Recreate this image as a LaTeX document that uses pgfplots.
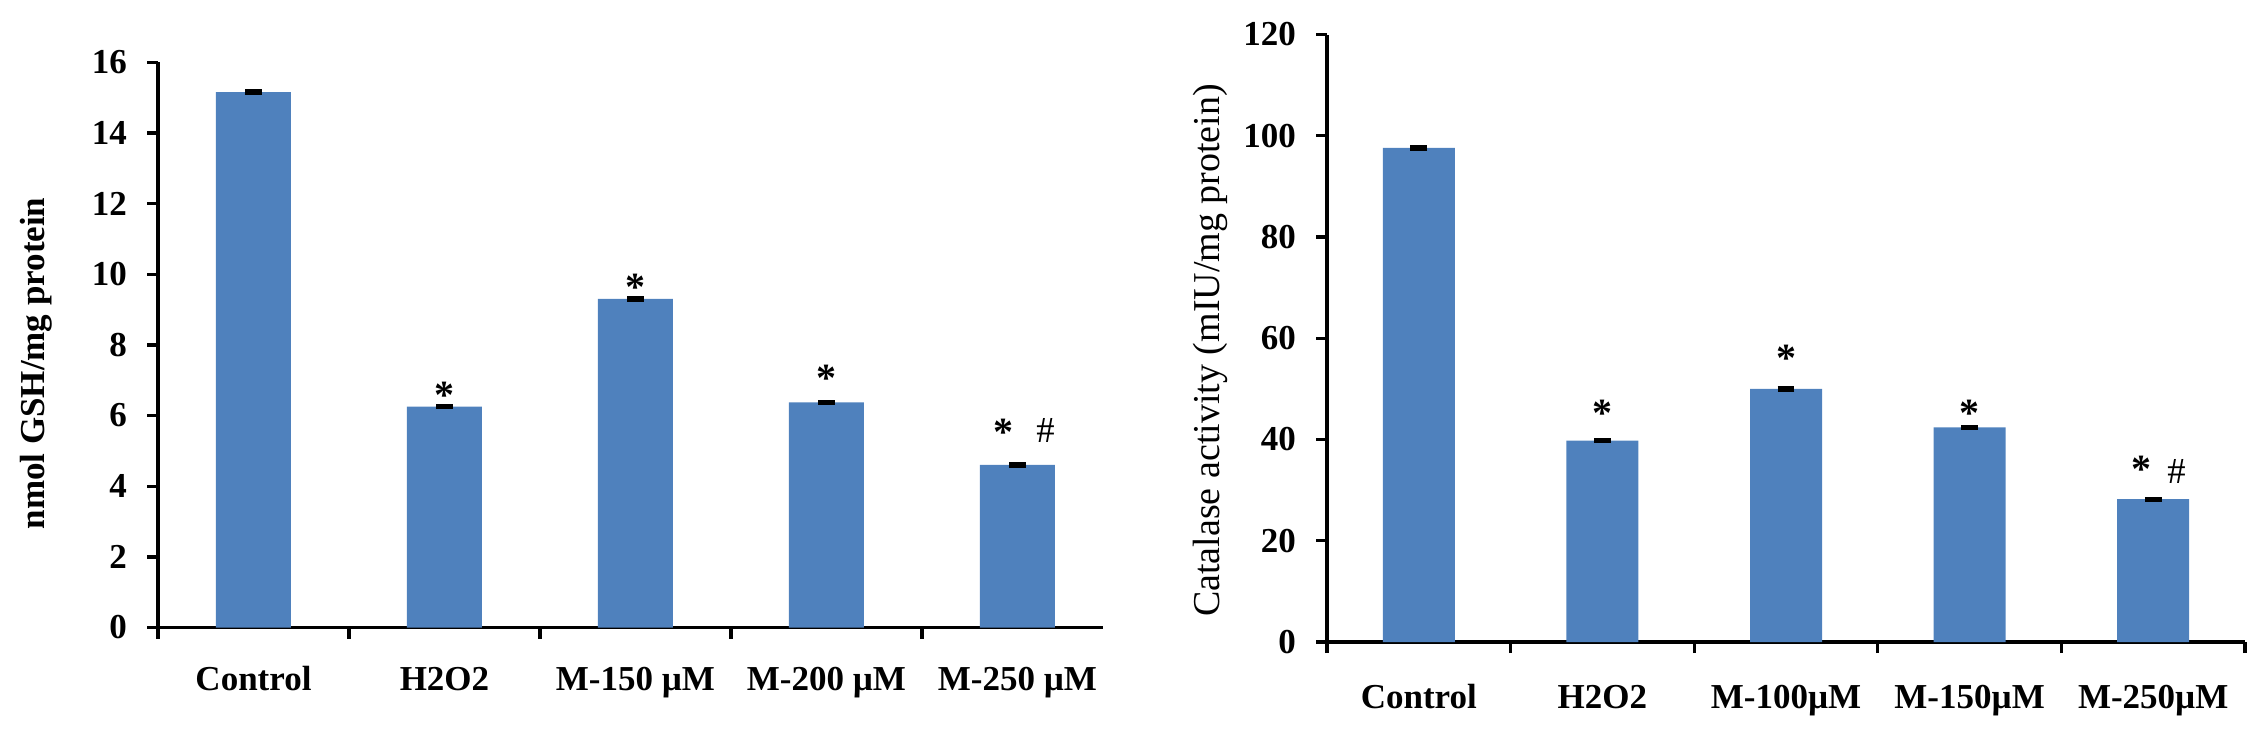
\documentclass[border=0pt]{standalone}
\usepackage{fontspec}
\setmainfont{Liberation Serif}
\usepackage{pgfplots}
\pgfplotsset{compat=1.18}
\definecolor{barblue}{HTML}{4F81BD}
\pgfplotsset{
  myaxis/.style={
    scale only axis,
    anchor=south west,
    axis x line=bottom, axis y line=left,
    axis line style={-, line width=1pt, black},
    ymin=0, xmin=-0.5,
    tick align=outside,
    major tick length=3.3pt,
    minor tick length=3.3pt,
    xtick={0,...,4},
    major x tick style={draw=none},
    minor x tick style={black, line width=1pt},
    y tick style={black, line width=1pt},
    /pgf/number format/assume math mode=true,
    tick label style={font=\fontsize{10.5}{12}\selectfont\bfseries},
    yticklabel style={xshift=-2.5pt},
    xticklabel style={text height=7.5pt, text depth=2pt},
    ybar,
    clip=false,
  },
}
\tikzset{
  ast/.style={anchor=base, font=\fontsize{12}{14}\selectfont\bfseries},
  hsh/.style={anchor=base, font=\fontsize{11}{13}\selectfont},
}
\begin{document}
\begin{tikzpicture}
\useasboundingbox (0,0) rectangle (680.1pt,222.6pt);
% ---------- left panel ----------
\begin{axis}[myaxis,
  at={(47.4pt,34.35pt)}, width=283.5pt, height=169.6pt,
  xmax=4.448, ymax=16, ytick={0,2,...,16},
  bar width=22.5pt,
  minor xtick={-0.5,0.5,1.5,2.5,3.5},
  xticklabels={Control,H2O2,M-150 µM,M-200 µM,M-250 µM},
  xticklabel style={yshift=-4.7pt}]
\addplot[fill=barblue, draw=none,
  error bars/.cd, y dir=both, y explicit,
  error bar style={black, line width=1pt},
  error mark options={black, line width=1pt, mark size=2.5pt, rotate=90}]
  coordinates {(0,15.15) +- (0,0.03) (1,6.25) +- (0,0.03) (2,9.3) +- (0,0.03) (3,6.37) +- (0,0.03) (4,4.6) +- (0,0.03)};
\node[ast, yshift=-0.6pt] at (axis cs:1,6.25) {*};
\node[ast, yshift=-0.6pt] at (axis cs:2,9.3) {*};
\node[ast, yshift=3.3pt] at (axis cs:3,6.37) {*};
\node[ast, yshift=5.7pt, xshift=-4.2pt] at (axis cs:4,4.6) {*};
\node[hsh, yshift=6.8pt, xshift=8.4pt] at (axis cs:4,4.6) {\#};
\end{axis}
% ---------- right panel ----------
\begin{axis}[myaxis,
  at={(398.1pt,30pt)}, width=275.4pt, height=182.25pt,
  xmax=4.5, ymax=120, ytick={0,20,...,120},
  bar width=21.6pt,
  minor xtick={-0.5,0.5,1.5,2.5,3.5,4.5},
  xticklabels={Control,H2O2,M-100µM,M-150µM,M-250µM},
  xticklabel style={yshift=-5.6pt}]
\addplot[fill=barblue, draw=none,
  error bars/.cd, y dir=both, y explicit,
  error bar style={black, line width=1pt},
  error mark options={black, line width=1pt, mark size=2.5pt, rotate=90}]
  coordinates {(0,97.6) +- (0,0.2) (1,39.8) +- (0,0.2) (2,50.0) +- (0,0.2) (3,42.4) +- (0,0.2) (4,28.2) +- (0,0.2)};
\node[ast, yshift=4.2pt] at (axis cs:1,39.8) {*};
\node[ast, yshift=5.1pt] at (axis cs:2,50.0) {*};
\node[ast, yshift=0.3pt] at (axis cs:3,42.4) {*};
\node[ast, yshift=5.1pt, xshift=-3.5pt] at (axis cs:4,28.2) {*};
\node[hsh, yshift=4.7pt, xshift=7pt] at (axis cs:4,28.2) {\#};
\end{axis}
% ---------- axis titles ----------
\node[rotate=90, anchor=base, font=\fontsize{10.5}{12}\selectfont\bfseries] at (13.5pt,113.55pt) {nmol GSH/mg protein};
\node[rotate=90, anchor=base, font=\fontsize{11.4}{13}\selectfont] at (365.85pt,117.45pt) {Catalase activity (mIU/mg protein)};
\end{tikzpicture}
\end{document}
